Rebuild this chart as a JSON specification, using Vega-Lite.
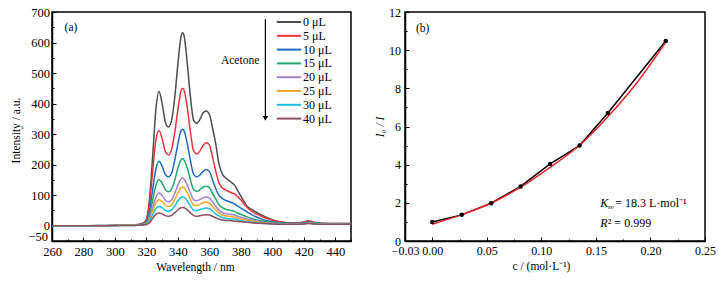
{
  "$schema": "https://vega.github.io/schema/vega-lite/v6.json",
  "background": "white",
  "padding": {"left": 10, "top": 5, "right": 0, "bottom": 0},
  "spacing": 18,
  "config": {
    "font": "Liberation Serif",
    "view": {"stroke": "black", "strokeWidth": 1.5},
    "axis": {"grid": false, "labelFont": "Liberation Serif", "titleFont": "Liberation Serif", "labelFontSize": 12.5, "titleFontSize": 11.5, "titleFontWeight": "normal", "labelColor": "black", "titleColor": "black", "tickColor": "black", "domainColor": "black", "domainWidth": 1.5, "tickWidth": 1, "labelFlush": false, "labelOverlap": false, "tickCount": 100},
    "text": {"font": "Liberation Serif", "color": "black"}
  },
  "datasets": {
    "spectra": [
      {"w":260,"0 μL":0,"5 μL":0,"10 μL":0,"15 μL":0,"20 μL":0,"25 μL":0,"30 μL":0,"40 μL":0},
      {"w":280,"0 μL":0,"5 μL":0,"10 μL":0,"15 μL":0,"20 μL":0,"25 μL":0,"30 μL":0,"40 μL":0},
      {"w":300,"0 μL":1,"5 μL":1,"10 μL":1,"15 μL":1,"20 μL":1,"25 μL":1,"30 μL":1,"40 μL":1},
      {"w":310,"0 μL":2,"5 μL":2,"10 μL":2,"15 μL":2,"20 μL":2,"25 μL":2,"30 μL":1,"40 μL":1},
      {"w":315,"0 μL":4,"5 μL":4,"10 μL":3,"15 μL":3,"20 μL":3,"25 μL":2,"30 μL":2,"40 μL":2},
      {"w":318,"0 μL":8,"5 μL":8,"10 μL":6,"15 μL":5,"20 μL":4,"25 μL":4,"30 μL":3,"40 μL":3},
      {"w":320,"0 μL":20,"5 μL":18,"10 μL":12,"15 μL":10,"20 μL":8,"25 μL":7,"30 μL":5,"40 μL":4},
      {"w":322,"0 μL":90,"5 μL":75,"10 μL":50,"15 μL":35,"20 μL":25,"25 μL":20,"30 μL":15,"40 μL":10},
      {"w":324,"0 μL":230,"5 μL":180,"10 μL":120,"15 μL":85,"20 μL":60,"25 μL":48,"30 μL":36,"40 μL":24},
      {"w":326,"0 μL":380,"5 μL":280,"10 μL":185,"15 μL":132,"20 μL":93,"25 μL":75,"30 μL":56,"40 μL":37},
      {"w":328,"0 μL":440,"5 μL":312,"10 μL":211,"15 μL":151,"20 μL":107,"25 μL":85,"30 μL":63,"40 μL":42},
      {"w":330,"0 μL":400,"5 μL":285,"10 μL":195,"15 μL":140,"20 μL":99,"25 μL":79,"30 μL":59,"40 μL":39},
      {"w":332,"0 μL":340,"5 μL":243,"10 μL":168,"15 μL":118,"20 μL":84,"25 μL":67,"30 μL":50,"40 μL":33},
      {"w":334,"0 μL":323,"5 μL":232,"10 μL":160,"15 μL":111,"20 μL":78,"25 μL":63,"30 μL":47,"40 μL":31},
      {"w":336,"0 μL":345,"5 μL":250,"10 μL":172,"15 μL":120,"20 μL":85,"25 μL":68,"30 μL":51,"40 μL":34},
      {"w":338,"0 μL":420,"5 μL":305,"10 μL":215,"15 μL":150,"20 μL":106,"25 μL":86,"30 μL":64,"40 μL":42},
      {"w":340,"0 μL":530,"5 μL":380,"10 μL":268,"15 μL":188,"20 μL":133,"25 μL":108,"30 μL":81,"40 μL":52},
      {"w":342,"0 μL":620,"5 μL":443,"10 μL":312,"15 μL":216,"20 μL":153,"25 μL":125,"30 μL":93,"40 μL":59},
      {"w":343,"0 μL":632,"5 μL":450,"10 μL":316,"15 μL":220,"20 μL":156,"25 μL":127,"30 μL":95,"40 μL":60},
      {"w":344,"0 μL":620,"5 μL":443,"10 μL":310,"15 μL":215,"20 μL":152,"25 μL":124,"30 μL":93,"40 μL":59},
      {"w":346,"0 μL":530,"5 μL":385,"10 μL":268,"15 μL":188,"20 μL":133,"25 μL":108,"30 μL":81,"40 μL":52},
      {"w":348,"0 μL":420,"5 μL":305,"10 μL":212,"15 μL":150,"20 μL":107,"25 μL":86,"30 μL":64,"40 μL":42},
      {"w":350,"0 μL":345,"5 μL":245,"10 μL":168,"15 μL":118,"20 μL":85,"25 μL":68,"30 μL":51,"40 μL":33},
      {"w":352,"0 μL":335,"5 μL":235,"10 μL":160,"15 μL":113,"20 μL":82,"25 μL":66,"30 μL":50,"40 μL":31},
      {"w":354,"0 μL":348,"5 μL":245,"10 μL":166,"15 μL":118,"20 μL":86,"25 μL":70,"30 μL":53,"40 μL":33},
      {"w":356,"0 μL":370,"5 μL":263,"10 μL":178,"15 μL":126,"20 μL":92,"25 μL":75,"30 μL":56,"40 μL":35},
      {"w":358,"0 μL":376,"5 μL":272,"10 μL":184,"15 μL":129,"20 μL":94,"25 μL":77,"30 μL":58,"40 μL":36},
      {"w":360,"0 μL":365,"5 μL":265,"10 μL":178,"15 μL":125,"20 μL":91,"25 μL":74,"30 μL":56,"40 μL":35},
      {"w":362,"0 μL":320,"5 μL":225,"10 μL":150,"15 μL":106,"20 μL":78,"25 μL":63,"30 μL":48,"40 μL":31},
      {"w":364,"0 μL":270,"5 μL":180,"10 μL":122,"15 μL":88,"20 μL":64,"25 μL":52,"30 μL":39,"40 μL":26},
      {"w":366,"0 μL":205,"5 μL":142,"10 μL":100,"15 μL":70,"20 μL":52,"25 μL":42,"30 μL":32,"40 μL":22},
      {"w":368,"0 μL":172,"5 μL":125,"10 μL":90,"15 μL":60,"20 μL":44,"25 μL":36,"30 μL":27,"40 μL":19},
      {"w":370,"0 μL":158,"5 μL":118,"10 μL":84,"15 μL":55,"20 μL":40,"25 μL":33,"30 μL":25,"40 μL":18},
      {"w":372,"0 μL":150,"5 μL":113,"10 μL":80,"15 μL":52,"20 μL":38,"25 μL":31,"30 μL":23,"40 μL":17},
      {"w":374,"0 μL":142,"5 μL":108,"10 μL":76,"15 μL":50,"20 μL":37,"25 μL":30,"30 μL":22,"40 μL":16},
      {"w":376,"0 μL":133,"5 μL":104,"10 μL":72,"15 μL":47,"20 μL":35,"25 μL":28,"30 μL":21,"40 μL":15},
      {"w":378,"0 μL":115,"5 μL":95,"10 μL":64,"15 μL":41,"20 μL":31,"25 μL":25,"30 μL":19,"40 μL":14},
      {"w":380,"0 μL":97,"5 μL":85,"10 μL":58,"15 μL":37,"20 μL":28,"25 μL":22,"30 μL":16,"40 μL":13},
      {"w":384,"0 μL":64,"5 μL":60,"10 μL":45,"15 μL":29,"20 μL":22,"25 μL":18,"30 μL":13,"40 μL":11},
      {"w":388,"0 μL":50,"5 μL":44,"10 μL":33,"15 μL":22,"20 μL":17,"25 μL":14,"30 μL":10,"40 μL":9},
      {"w":392,"0 μL":38,"5 μL":33,"10 μL":24,"15 μL":17,"20 μL":13,"25 μL":11,"30 μL":8,"40 μL":8},
      {"w":396,"0 μL":28,"5 μL":25,"10 μL":17,"15 μL":13,"20 μL":10,"25 μL":9,"30 μL":7,"40 μL":7},
      {"w":400,"0 μL":20,"5 μL":18,"10 μL":13,"15 μL":10,"20 μL":8,"25 μL":7,"30 μL":6,"40 μL":6},
      {"w":405,"0 μL":13,"5 μL":12,"10 μL":10,"15 μL":8,"20 μL":7,"25 μL":6,"30 μL":5,"40 μL":5},
      {"w":410,"0 μL":10,"5 μL":9,"10 μL":8,"15 μL":7,"20 μL":6,"25 μL":6,"30 μL":5,"40 μL":5},
      {"w":415,"0 μL":9,"5 μL":8,"10 μL":7,"15 μL":6,"20 μL":6,"25 μL":5,"30 μL":5,"40 μL":5},
      {"w":420,"0 μL":12,"5 μL":12,"10 μL":9,"15 μL":8,"20 μL":7,"25 μL":6,"30 μL":6,"40 μL":6},
      {"w":423,"0 μL":15,"5 μL":16,"10 μL":12,"15 μL":11,"20 μL":10,"25 μL":9,"30 μL":8,"40 μL":7},
      {"w":426,"0 μL":12,"5 μL":12,"10 μL":10,"15 μL":9,"20 μL":8,"25 μL":7,"30 μL":6,"40 μL":6},
      {"w":430,"0 μL":8,"5 μL":8,"10 μL":7,"15 μL":7,"20 μL":6,"25 μL":6,"30 μL":5,"40 μL":5},
      {"w":440,"0 μL":7,"5 μL":7,"10 μL":6,"15 μL":6,"20 μL":5,"25 μL":5,"30 μL":5,"40 μL":5},
      {"w":450,"0 μL":7,"5 μL":7,"10 μL":6,"15 μL":6,"20 μL":5,"25 μL":5,"30 μL":5,"40 μL":5}
    ],
    "arrow": [{"w": 395.6, "intensity": 676, "intensity2": 352}],
    "quench": [
      {"c": 0.000, "r": 1.00},
      {"c": 0.027, "r": 1.37},
      {"c": 0.054, "r": 1.98},
      {"c": 0.081, "r": 2.86},
      {"c": 0.108, "r": 4.04},
      {"c": 0.135, "r": 5.00},
      {"c": 0.161, "r": 6.71},
      {"c": 0.214, "r": 10.48}
    ],
    "fit": [
      {"c": 0.000, "r": 0.88},
      {"c": 0.027, "r": 1.38},
      {"c": 0.054, "r": 1.99},
      {"c": 0.081, "r": 2.82},
      {"c": 0.108, "r": 3.86},
      {"c": 0.135, "r": 5.02},
      {"c": 0.162, "r": 6.58},
      {"c": 0.189, "r": 8.40},
      {"c": 0.214, "r": 10.42}
    ]
  },
  "hconcat": [
    {
      "width": 299,
      "height": 229,
      "layer": [
        {
          "data": {"name": "spectra"},
          "transform": [{"fold": ["0 μL", "5 μL", "10 μL", "15 μL", "20 μL", "25 μL", "30 μL", "40 μL"], "as": ["volume", "intensity"]}],
          "mark": {"type": "line", "interpolate": "monotone", "strokeWidth": 1.5},
          "encoding": {
            "x": {"field": "w", "type": "quantitative", "scale": {"domain": [260, 450], "nice": false, "zero": false},
              "axis": {"title": "Wavelength / nm", "values": [260,270,280,290,300,310,320,330,340,350,360,370,380,390,400,410,420,430,440,450],
                "labelOverlap": false, "labelFlush": false, "tickCount": 100,
                "labelExpr": "datum.value % 20 === 0 ? datum.label : ''",
                "tickSize": {"condition": {"test": "datum.value % 20 !== 0", "value": -2}, "value": -4},
                "labelPadding": 8, "titlePadding": 2, "titleX": 143}},
            "y": {"field": "intensity", "type": "quantitative", "scale": {"domain": [-50, 700], "nice": false, "zero": false},
              "axis": {"title": "Intensity / a.u.", "values": [-50,0,50,100,150,200,250,300,350,400,450,500,550,600,650,700],
                "labelOverlap": false, "labelFlush": false, "tickCount": 100,
                "labelExpr": "datum.value % 100 === 0 || datum.value < 0 ? datum.label : ''",
                "labelOffset": {"condition": {"test": "datum.value < 0", "value": -5}, "value": 0},
                "tickSize": {"condition": {"test": "datum.value % 100 !== 0", "value": -2}, "value": -4},
                "labelPadding": 6.5, "titlePadding": 6, "titleY": 118}},
            "color": {"field": "volume", "type": "nominal",
              "scale": {"domain": ["0 μL", "5 μL", "10 μL", "15 μL", "20 μL", "25 μL", "30 μL", "40 μL"],
                "range": ["#4d4d4d", "#f0323c", "#1f6bbf", "#22a86b", "#a77fd0", "#f5a623", "#16bfe0", "#8c5060"]},
              "legend": {"orient": "none", "legendX": 231, "legendY": 4, "title": null, "symbolType": "M-5,0H5", "symbolSize": 23.6, "symbolStrokeWidth": 2, "labelFont": "Liberation Serif", "labelFontSize": 12, "labelOffset": 8, "labelColor": "black", "rowPadding": 1.8, "padding": 0}}
          }
        },
        {
          "data": {"name": "arrow"},
          "mark": {"type": "rule", "color": "black", "strokeWidth": 1.2},
          "encoding": {
            "x": {"field": "w", "type": "quantitative"},
            "y": {"field": "intensity", "type": "quantitative"},
            "y2": {"field": "intensity2"}
          }
        },
        {
          "data": {"name": "arrow"},
          "mark": {"type": "point", "shape": "triangle-down", "filled": true, "color": "black", "opacity": 1, "size": 30},
          "encoding": {
            "x": {"field": "w", "type": "quantitative"},
            "y": {"field": "intensity2", "type": "quantitative"}
          }
        },
        {
          "data": {"values": [{"w": 391.7, "intensity": 540, "text": "Acetone"}]},
          "mark": {"type": "text", "fontSize": 11.5, "baseline": "middle", "align": "right"},
          "encoding": {
            "x": {"field": "w", "type": "quantitative"},
            "y": {"field": "intensity", "type": "quantitative"},
            "text": {"field": "text"}
          }
        },
        {
          "data": {"values": [{"w": 268, "intensity": 647, "text": "(a)"}]},
          "mark": {"type": "text", "fontSize": 11.5, "baseline": "middle", "align": "left"},
          "encoding": {
            "x": {"field": "w", "type": "quantitative"},
            "y": {"field": "intensity", "type": "quantitative"},
            "text": {"field": "text"}
          }
        }
      ]
    },
    {
      "width": 300,
      "height": 229,
      "layer": [
        {
          "data": {"name": "quench"},
          "mark": {"type": "line", "color": "black", "strokeWidth": 1.5},
          "encoding": {
            "x": {"field": "c", "type": "quantitative", "scale": {"domain": [-0.025, 0.25], "nice": false, "zero": false},
              "axis": {"title": "c / (mol·L⁻¹)", "values": [-0.025,0,0.025,0.05,0.075,0.1,0.125,0.15,0.175,0.2,0.225,0.25],
                "labelOverlap": false, "labelFlush": false, "tickCount": 100, "labelFontSize": 12,
                "labelExpr": "datum.value < -0.02 || abs(datum.value*20 - round(datum.value*20)) < 0.001 ? format(datum.value, '.2f') : ''",
                "tickSize": {"condition": {"test": "datum.value > -0.02 && abs(datum.value*20 - round(datum.value*20)) > 0.001", "value": -2}, "value": -4},
                "labelPadding": 8, "titlePadding": 2, "titleX": 136}},
            "y": {"field": "r", "type": "quantitative", "scale": {"domain": [0, 12], "nice": false},
              "axis": {"title": "I₀ / I", "titleFontStyle": "italic", "values": [0,1,2,3,4,5,6,7,8,9,10,11,12],
                "labelOverlap": false, "labelFlush": false, "tickCount": 100, "labelFontSize": 12,
                "labelExpr": "datum.value % 2 === 0 ? format(datum.value, 'd') : ''",
                "tickSize": {"condition": {"test": "datum.value % 2 !== 0", "value": -2}, "value": -4},
                "labelPadding": 8.5, "titlePadding": 3}}
          }
        },
        {
          "data": {"name": "fit"},
          "mark": {"type": "line", "color": "#e8242c", "strokeWidth": 1.5, "interpolate": "monotone"},
          "encoding": {
            "x": {"field": "c", "type": "quantitative"},
            "y": {"field": "r", "type": "quantitative"}
          }
        },
        {
          "data": {"name": "quench"},
          "mark": {"type": "point", "shape": "circle", "filled": true, "color": "black", "opacity": 1, "size": 20},
          "encoding": {
            "x": {"field": "c", "type": "quantitative"},
            "y": {"field": "r", "type": "quantitative"}
          }
        },
        {
          "data": {"values": [{"c": -0.0149, "r": 11.1, "text": "(b)"}]},
          "mark": {"type": "text", "fontSize": 11.5, "align": "left", "baseline": "middle"},
          "encoding": {
            "x": {"field": "c", "type": "quantitative"},
            "y": {"field": "r", "type": "quantitative"},
            "text": {"field": "text"}
          }
        },
        {
          "data": {"values": [{"c": 0.154, "r": 1.98, "text": "K"}, {"c": 0.154, "r": 0.93, "text": "R"}]},
          "mark": {"type": "text", "fontSize": 12, "fontStyle": "italic", "align": "left", "baseline": "middle"},
          "encoding": {
            "x": {"field": "c", "type": "quantitative"},
            "y": {"field": "r", "type": "quantitative"},
            "text": {"field": "text"}
          }
        },
        {
          "data": {"values": [{"c": 0.154, "r": 1.98, "text": "sv"}]},
          "mark": {"type": "text", "fontSize": 7, "fontStyle": "italic", "align": "left", "baseline": "middle", "dx": 7.5, "dy": 4},
          "encoding": {
            "x": {"field": "c", "type": "quantitative"},
            "y": {"field": "r", "type": "quantitative"},
            "text": {"field": "text"}
          }
        },
        {
          "data": {"values": [{"c": 0.154, "r": 1.98, "text": "= 18.3 L·mol⁻¹"}]},
          "mark": {"type": "text", "fontSize": 12, "align": "left", "baseline": "middle", "dx": 15},
          "encoding": {
            "x": {"field": "c", "type": "quantitative"},
            "y": {"field": "r", "type": "quantitative"},
            "text": {"field": "text"}
          }
        },
        {
          "data": {"values": [{"c": 0.154, "r": 0.93, "text": "² = 0.999"}]},
          "mark": {"type": "text", "fontSize": 12, "align": "left", "baseline": "middle", "dx": 7.5},
          "encoding": {
            "x": {"field": "c", "type": "quantitative"},
            "y": {"field": "r", "type": "quantitative"},
            "text": {"field": "text"}
          }
        }
      ]
    }
  ]
}
